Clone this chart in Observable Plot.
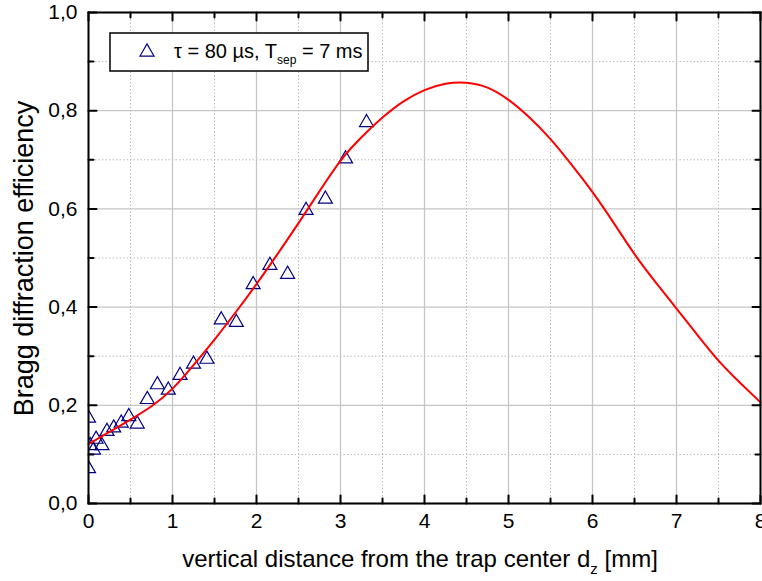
<!DOCTYPE html>
<html><head><meta charset="utf-8">
<script src="https://cdn.jsdelivr.net/npm/d3@7"></script>
<script src="https://cdn.jsdelivr.net/npm/@observablehq/plot@0.6"></script>
<style>
html,body{margin:0;padding:0;background:#fff;}
#chart{position:relative;width:762px;height:581px;overflow:hidden;}
</style>
</head><body><div id="chart"></div>
<script>
// measured points (triangles)
const pointX = [0, 0, 0.02, 0.06, 0.09, 0.16, 0.22, 0.30, 0.39, 0.48, 0.58, 0.70, 0.82, 0.95, 1.09, 1.25, 1.41, 1.58, 1.76, 1.96, 2.16, 2.37, 2.59, 2.82, 3.06, 3.31];
const pointY = [0.178, 0.075, 0.122, 0.113, 0.135, 0.122, 0.151, 0.158, 0.168, 0.181, 0.166, 0.216, 0.246, 0.235, 0.265, 0.288, 0.298, 0.378, 0.373, 0.450, 0.489, 0.471, 0.601, 0.624, 0.706, 0.780];
// fit curve
const fitX = [0, 0.25, 0.5, 0.75, 1, 1.25, 1.5, 1.75, 2, 2.25, 2.5, 2.75, 3, 3.25, 3.5, 3.75, 4, 4.25, 4.5, 4.75, 5, 5.25, 5.5, 5.75, 6, 6.25, 6.5, 6.75, 7, 7.25, 7.5, 7.75, 8];
const fitY = [0.121, 0.146, 0.171, 0.198, 0.234, 0.282, 0.334, 0.389, 0.447, 0.508, 0.571, 0.636, 0.698, 0.746, 0.786, 0.819, 0.842, 0.855, 0.857, 0.847, 0.822, 0.786, 0.742, 0.690, 0.634, 0.572, 0.508, 0.451, 0.397, 0.343, 0.291, 0.247, 0.206];

const xTicks = [0, 1, 2, 3, 4, 5, 6, 7, 8];
const xTickLabels = ["0", "1", "2", "3", "4", "5", "6", "7", "8"];
const xMinorTicks = [0.5, 1.5, 2.5, 3.5, 4.5, 5.5, 6.5, 7.5];
const yTicks = [0, 0.2, 0.4, 0.6, 0.8, 1.0];
const yTickLabels = ["0,0", "0,2", "0,4", "0,6", "0,8", "1,0"];
const yMinorTicks = [0.1, 0.3, 0.5, 0.7, 0.9];

const xTitleMain = "vertical distance from the trap center d";
const xTitleSub = "z";
const xTitleEnd = " [mm]";
const yTitle = "Bragg diffraction efficiency";
const legendMain = "\u03C4 = 80 \u00B5s, T";
const legendSub = "sep";
const legendEnd = " = 7 ms";

const points = pointX.map((x, i) => ({x, y: pointY[i]}));
const fit = fitX.map((x, i) => ({x, y: fitY[i]}));

const W = 762, H = 581, mL = 88, mR = 2, mT = 12, mB = 78;
const font = "'Liberation Sans', Arial, sans-serif";
const navy = "#000080";
const tickShape = {draw(ctx, l) { ctx.moveTo(0, 0); ctx.lineTo(0, -l); }};
const majorLen = 8, minorLen = 5;

function tickMarks(vals, len) {
  return [
    Plot.vectorX(vals, {x: d => d, frameAnchor: "bottom", rotate: 0, length: len, anchor: "start", shape: tickShape, stroke: "black", strokeWidth: 2}),
    Plot.vectorX(vals, {x: d => d, frameAnchor: "top", rotate: 180, length: len, anchor: "start", shape: tickShape, stroke: "black", strokeWidth: 2})
  ];
}
function tickMarksY(vals, len) {
  return [
    Plot.vectorY(vals, {y: d => d, frameAnchor: "left", rotate: 90, length: len, anchor: "start", shape: tickShape, stroke: "black", strokeWidth: 2}),
    Plot.vectorY(vals, {y: d => d, frameAnchor: "right", rotate: -90, length: len, anchor: "start", shape: tickShape, stroke: "black", strokeWidth: 2})
  ];
}

const svg = Plot.plot({
  width: W, height: H,
  marginLeft: mL, marginRight: mR, marginTop: mT, marginBottom: mB,
  style: {fontFamily: font, fontSize: "21px", color: "black", background: "white"},
  x: {domain: [0, 8]},
  y: {domain: [0, 1]},
  marks: [
    Plot.gridX(xMinorTicks, {stroke: "#b8b8b8", strokeOpacity: 1, strokeWidth: 1, strokeDasharray: "1.5,2"}),
    Plot.gridY(yMinorTicks, {stroke: "#b8b8b8", strokeOpacity: 1, strokeWidth: 1, strokeDasharray: "1.5,2"}),
    Plot.gridX(xTicks, {stroke: "#c6c6c6", strokeOpacity: 1, strokeWidth: 1.3}),
    Plot.gridY(yTicks, {stroke: "#c6c6c6", strokeOpacity: 1, strokeWidth: 1.3}),
    Plot.dot(points, {x: "x", y: "y", symbol: "triangle", r: 5.2, stroke: navy, strokeWidth: 1.2, fill: "none", dy: 2, clip: true}),
    Plot.line(fit, {x: "x", y: "y", stroke: "#ff0000", strokeWidth: 2, curve: "natural"}),
    Plot.frame({stroke: "black", strokeWidth: 2}),
    ...tickMarks(xTicks, majorLen),
    ...tickMarks(xMinorTicks, minorLen),
    ...tickMarksY(yTicks, majorLen),
    ...tickMarksY(yMinorTicks, minorLen),
    Plot.axisX(xTicks, {tickSize: 0, tickPadding: 10, label: null, fontSize: 21, tickFormat: d => xTickLabels[xTicks.indexOf(d)]}),
    Plot.axisY(yTicks, {tickSize: 0, tickPadding: 11, label: null, fontSize: 21, tickFormat: d => yTickLabels[yTicks.indexOf(d)]})
  ]
});

const g = d3.select(svg);
// y title
g.append("text")
  .attr("transform", `translate(33,${(mT + H - mB) / 2 + 1}) rotate(-90)`)
  .attr("text-anchor", "middle").attr("font-size", 27).attr("fill", "black")
  .text(yTitle);
// x title
const xt = g.append("text")
  .attr("x", (mL + W - mR) / 2 - 4).attr("y", 567)
  .attr("text-anchor", "middle").attr("font-size", 24).attr("fill", "black")
  .style("white-space", "pre");
xt.append("tspan").text(xTitleMain);
xt.append("tspan").attr("font-size", 15).attr("dy", 7).text(xTitleSub);
xt.append("tspan").attr("dy", -7).text(xTitleEnd);

// legend
const lg = g.append("g");
lg.append("rect").attr("x", mL + 22).attr("y", mT + 21).attr("width", 258).attr("height", 38)
  .attr("fill", "white").attr("stroke", "black").attr("stroke-width", 1.5);
lg.append("path").attr("d", d3.symbol(d3.symbolTriangle, Math.PI * 5.2 * 5.2)())
  .attr("transform", `translate(${mL + 59},${mT + 40})`)
  .attr("fill", "none").attr("stroke", navy).attr("stroke-width", 1.2);
const lt = lg.append("text").attr("x", mL + 86).attr("y", mT + 46)
  .attr("text-anchor", "start")
  .attr("font-size", 20).attr("fill", "black").style("white-space", "pre");
lt.append("tspan").text(legendMain);
lt.append("tspan").attr("font-size", 12).attr("dy", 6).text(legendSub);
lt.append("tspan").attr("dy", -6).text(legendEnd);

document.getElementById("chart").appendChild(svg);
</script>
</body></html>
